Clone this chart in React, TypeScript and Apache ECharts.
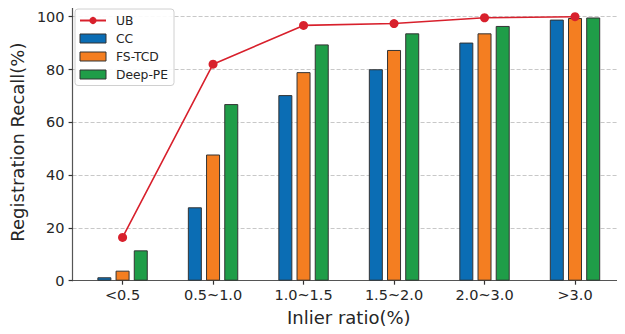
import React, { useEffect, useRef } from "react";
import * as echarts from "echarts";

const categories = ["<0.5", "0.5~1.0", "1.0~1.5", "1.5~2.0", "2.0~3.0", ">3.0"];
const ubValues = [16.4, 82.0, 96.7, 97.4, 99.6, 100.0];
const ccValues = [1.3, 27.8, 70.3, 80.1, 90.2, 98.9];
const fsValues = [3.8, 47.8, 79.0, 87.4, 93.7, 99.5];
const deepValues = [11.5, 66.9, 89.5, 93.7, 96.5, 99.7];
const yTicks = [0, 20, 40, 60, 80, 100];

const FONT = "DejaVu Sans";
const TXT = "#262626";

export default function App() {
  const ref = useRef<HTMLDivElement>(null);
  useEffect(() => {
    if (!ref.current) return;
    const chart = echarts.init(ref.current, undefined, { renderer: "svg" });
    const pts = (arr: number[]) => arr.map((v, i) => [i, v]);
    const barStyle = (color: string) => ({
      color,
      borderColor: "#333333",
      borderWidth: 1,
    });
    chart.setOption({
      animation: false,
      backgroundColor: "#ffffff",
      textStyle: { fontFamily: FONT, color: TXT },
      grid: { left: 68, top: 3.5, width: 559, bottom: 53.3, containLabel: false },
      legend: {
        orient: "vertical",
        left: 75,
        top: 9,
        padding: [5.5, 6, 5, 4],
        itemWidth: 26,
        itemHeight: 9,
        itemGap: 6,
        borderColor: "#d0d0d0",
        borderWidth: 1,
        borderRadius: 3,
        backgroundColor: "rgba(255,255,255,0.9)",
        formatter: (name: string) => "{t|" + name + "}",
        textStyle: {
          fontFamily: FONT,
          fontSize: 12.3,
          color: TXT,
          rich: { t: { fontFamily: FONT, fontSize: 12.3, color: TXT, padding: [0, 0, 0, 5], lineHeight: 15 } },
        },
        data: [
          { name: "UB" },
          { name: "CC", icon: "rect", itemStyle: { borderColor: "#333", borderWidth: 1 } },
          { name: "FS-TCD", icon: "rect", itemStyle: { borderColor: "#333", borderWidth: 1 } },
          { name: "Deep-PE", icon: "rect", itemStyle: { borderColor: "#333", borderWidth: 1 } },
        ],
      },
      xAxis: {
        type: "value",
        min: -0.5525,
        max: 5.5525,
        name: "Inlier ratio(%)",
        nameLocation: "middle",
        nameGap: 28,
        nameTextStyle: { fontFamily: FONT, fontSize: 18, color: TXT },
        axisLine: { show: true, onZero: false, lineStyle: { color: "#555555", width: 1.2 } },
        axisTick: {
          show: true,
          length: 4,
          inside: false,
          customValues: [0, 1, 2, 3, 4, 5],
          lineStyle: { color: "#333333", width: 1.2 },
        },
        axisLabel: {
          customValues: [0, 1, 2, 3, 4, 5],
          formatter: (v: number) => categories[Math.round(v)] ?? "",
          fontFamily: FONT,
          fontSize: 14.5,
          color: TXT,
          margin: 7,
        },
        splitLine: { show: false },
      },
      yAxis: {
        type: "value",
        min: 0,
        max: 105,
        interval: 20,
        name: "Registration Recall(%)",
        nameLocation: "middle",
        nameGap: 42,
        nameTextStyle: { fontFamily: FONT, fontSize: 18, color: TXT },
        axisLine: { show: true, onZero: false, lineStyle: { color: "#555555", width: 1.2 } },
        axisTick: { show: true, length: 4, lineStyle: { color: "#333333", width: 1.2 } },
        axisLabel: {
          fontFamily: FONT,
          fontSize: 14.5,
          color: TXT,
          margin: 8,
          formatter: (v: number) => (yTicks.includes(v) ? String(v) : ""),
        },
        splitLine: { show: true, lineStyle: { color: "#c8c8c8", type: [4, 2], width: 1 } },
      },
      series: [
        {
          name: "CC",
          type: "bar",
          data: pts(ccValues),
          barWidth: 14,
          barGap: "30%",
          itemStyle: barStyle("#0b6db4"),
        },
        {
          name: "FS-TCD",
          type: "bar",
          data: pts(fsValues),
          barWidth: 14,
          barGap: "30%",
          itemStyle: barStyle("#f47e21"),
        },
        {
          name: "Deep-PE",
          type: "bar",
          data: pts(deepValues),
          barWidth: 14,
          barGap: "30%",
          itemStyle: barStyle("#1f9d48"),
        },
        {
          name: "UB",
          type: "line",
          data: pts(ubValues),
          symbol: "circle",
          symbolSize: 9,
          lineStyle: { color: "#d8202c", width: 1.6 },
          itemStyle: { color: "#d8202c" },
          z: 5,
        },
      ],
    });
    return () => chart.dispose();
  }, []);
  return <div ref={ref} style={{ width: 625, height: 334, margin: -8 }} />;
}
